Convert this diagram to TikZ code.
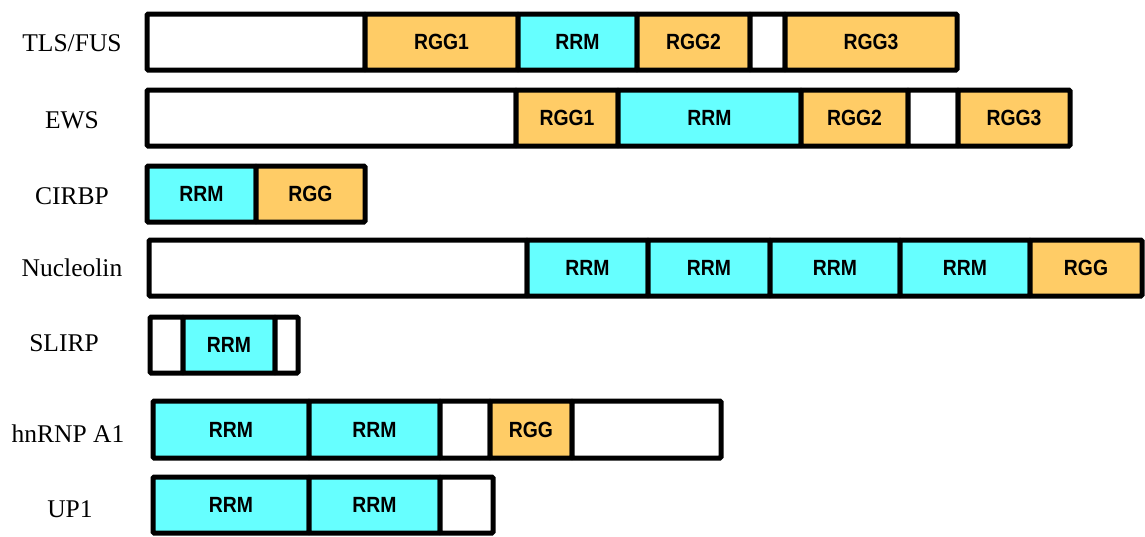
\documentclass[tikz,border=0pt]{standalone}
\usepackage{fontspec}
\setmainfont{Liberation Serif}
\newfontfamily\dsans[FakeStretch=0.88]{Liberation Sans}
\definecolor{rrm}{HTML}{66FFFF}
\definecolor{rgg}{HTML}{FFCC66}
\newcommand\dom[7]{%
  \node[dom, fill=#6, minimum width={(#3-#2)*1pt}, minimum height={(#5-#4)*1pt}] (#1) at ({(#2+#3)/2},{(#4+#5)/2}) {#7};}
\tikzset{
  dom/.style={draw=black, line width=5pt, rounded corners=1.2pt, inner sep=0pt,
    font=\dsans\bfseries\fontsize{22}{22}\selectfont, text=black},
  lab/.style={font=\fontsize{25.5}{25.5}\selectfont, inner sep=0pt}
}
\begin{document}
\begin{tikzpicture}[x=1pt,y=-1pt]
\useasboundingbox (0,0) rectangle (1145,536);
% labels
\node[lab] (lTLS) at (72,43) {TLS/FUS};
\node[lab] (lEWS) at (72,120) {EWS};
\node[lab] (lCIR) at (72,196) {CIRBP};
\node[lab] (lNUC) at (72,268) {Nucleolin};
\node[lab] (lSLI) at (64,343) {SLIRP};
\node[lab] (lHNR) at (68,434) {hnRNP A1};
\node[lab] (lUP1) at (70,509) {UP1};
% TLS/FUS
\dom{t1}{147}{365}{14}{70}{white}{}
\dom{t2}{365}{518}{14}{70}{rgg}{RGG1}
\dom{t3}{518}{637}{14}{70}{rrm}{RRM}
\dom{t4}{637}{750}{14}{70}{rgg}{RGG2}
\dom{t5}{750}{785}{14}{70}{white}{}
\dom{t6}{785}{957}{14}{70}{rgg}{RGG3}
% EWS
\dom{e1}{147}{516}{90}{146}{white}{}
\dom{e2}{516}{618}{90}{146}{rgg}{RGG1}
\dom{e3}{618}{801}{90}{146}{rrm}{RRM}
\dom{e4}{801}{908}{90}{146}{rgg}{RGG2}
\dom{e5}{908}{958}{90}{146}{white}{}
\dom{e6}{958}{1070}{90}{146}{rgg}{RGG3}
% CIRBP
\dom{c1}{147}{256}{166}{222}{rrm}{RRM}
\dom{c2}{256}{365}{166}{222}{rgg}{RGG}
% Nucleolin
\dom{n1}{149}{527}{240}{296}{white}{}
\dom{n2}{527}{648}{240}{296}{rrm}{RRM}
\dom{n3}{648}{770}{240}{296}{rrm}{RRM}
\dom{n4}{770}{900}{240}{296}{rrm}{RRM}
\dom{n5}{900}{1030}{240}{296}{rrm}{RRM}
\dom{n6}{1030}{1142}{240}{296}{rgg}{RGG}
% SLIRP
\dom{s1}{150}{183}{317}{373}{white}{}
\dom{s2}{183}{275}{317}{373}{rrm}{RRM}
\dom{s3}{275}{298}{317}{373}{white}{}
% hnRNP A1
\dom{h1}{153}{309}{401}{458}{rrm}{RRM}
\dom{h2}{309}{440}{401}{458}{rrm}{RRM}
\dom{h3}{440}{490}{401}{458}{white}{}
\dom{h4}{490}{572}{401}{458}{rgg}{RGG}
\dom{h5}{572}{721}{401}{458}{white}{}
% UP1
\dom{u1}{153}{309}{477}{533}{rrm}{RRM}
\dom{u2}{309}{440}{477}{533}{rrm}{RRM}
\dom{u3}{440}{493}{477}{533}{white}{}
\end{tikzpicture}
\end{document}
